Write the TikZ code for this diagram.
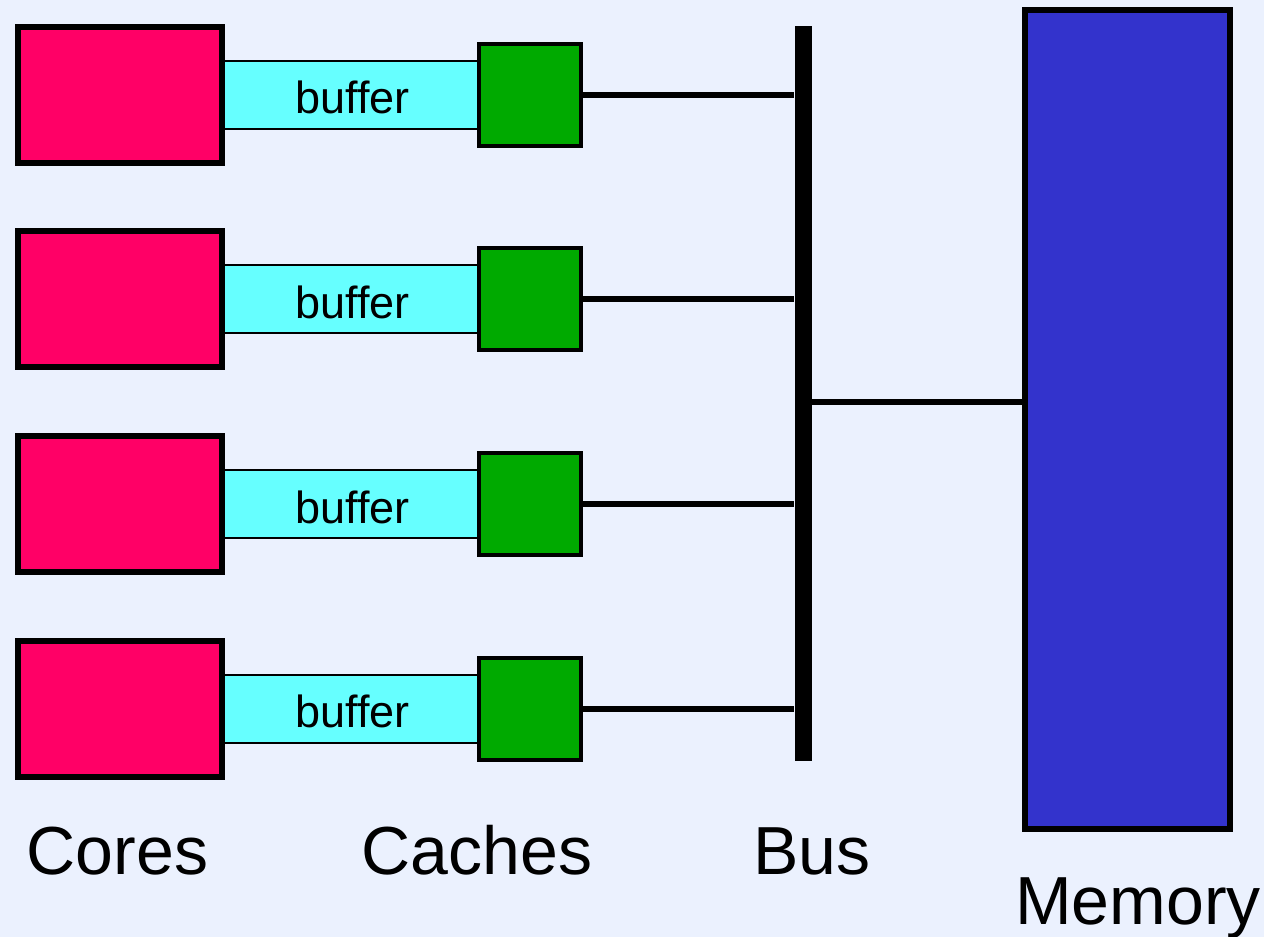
\documentclass[tikz,border=0pt]{standalone}
\usepackage{fontspec}
\setmainfont{Liberation Sans}
\definecolor{bg}{HTML}{EBF1FE}
\definecolor{corecol}{HTML}{FF0066}
\definecolor{bufcol}{HTML}{66FFFF}
\definecolor{cachecol}{HTML}{00AA00}
\definecolor{memcol}{HTML}{3333CC}
\tikzset{
  corebox/.style={draw=black, line width=6pt, fill=corecol, minimum width=204pt, minimum height=136pt, inner sep=0pt},
  bufbox/.style={draw=black, line width=2pt, fill=bufcol, minimum width=256pt, minimum height=68pt, inner sep=0pt},
  buftext/.style={inner sep=0pt, font=\fontsize{45}{50}\selectfont},
  cachebox/.style={draw=black, line width=4pt, fill=cachecol, minimum width=102.6pt, minimum height=102pt, inner sep=0pt},
  wire/.style={draw=black, line width=6pt},
  lbl/.style={anchor=base west, inner sep=0pt, font=\fontsize{68}{80}\selectfont}
}
\begin{document}
\begin{tikzpicture}[x=1pt,y=-1pt]
\fill[bg] (0,0) rectangle (1264,937);
\useasboundingbox (0,0) rectangle (1264,937);
\node[fill=black, minimum width=17pt, minimum height=734.7pt, inner sep=0pt] (bus) at (803,393.35) {};
\foreach \i/\y in {1/94.7,2/299.4,3/504.1,4/708.8}{
  \node[bufbox] (b\i) at (350,\y) {};
  \node[buftext] (bt\i) at (352.5,\y+3) {buffer};
  \node[corebox] (core\i) at (120,\y) {};
  \node[cachebox] (c\i) at (530,\y) {};
  \draw[wire] (c\i.east) -- (c\i.east -| bus.west);
}
\node[draw=black, line width=6pt, fill=memcol, minimum width=205pt, minimum height=818.7pt, inner sep=0pt] (mem) at (1127.2,419.35) {};
\coordinate (tap) at (803,402);
\draw[wire] (tap -| bus.east) -- (tap -| mem.west);
\node[lbl] (lcores) at (26.5,874) {Cores};
\node[lbl] (lcaches) at (361.5,874) {Caches};
\node[lbl] (lbus) at (753,874) {Bus};
\node[lbl] (lmem) at (1015,924) {Memory};
\end{tikzpicture}
\end{document}
